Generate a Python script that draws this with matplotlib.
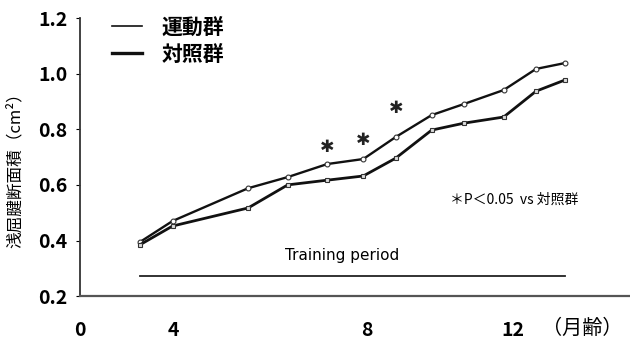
import matplotlib
matplotlib.use("Agg")
import matplotlib.pyplot as plt

plt.rcParams['font.family'] = ['Noto Sans CJK JP', 'DejaVu Sans']

# age in months at each measurement
ages = [3.0, 3.9, 6.0, 7.1, 8.2, 9.2, 10.1, 11.1, 12.0, 13.1, 14.0, 14.8]
# tendon cross-sectional area (cm2)
exercise = [0.395, 0.47, 0.588, 0.628, 0.675, 0.693, 0.772, 0.851, 0.891, 0.941, 1.017, 1.038]
control = [0.385, 0.452, 0.517, 0.600, 0.617, 0.632, 0.696, 0.797, 0.822, 0.844, 0.937, 0.977]
# measurements with P < 0.05 and the height of their star
sig_idx = [4, 5, 6]
star_y = [0.738, 0.760, 0.875]

xtick_pos = [1.33, 3.92, 9.31, 13.36]
xtick_labels = ['0', '4', '8', '12']
yticks = [0.2, 0.4, 0.6, 0.8, 1.0, 1.2]

fig = plt.figure(figsize=(6.3, 3.4), dpi=100)
ax = fig.add_axes([0.127, 0.129, 0.873, 0.818])

ax.plot(ages, exercise, color='#111111', lw=1.7, marker='o', ms=3.5,
        mfc='white', mec='#333333', mew=0.8)
ax.plot(ages, control, color='#111111', lw=2.0, marker='s', ms=3.5,
        mfc='#dddddd', mec='#333333', mew=0.8)

for i, y in zip(sig_idx, star_y):
    ax.text(ages[i], y, '✱', ha='center', va='center', fontsize=12.5,
            family='DejaVu Sans', color='#222222')

# training period bar
ax.plot([ages[0], ages[-1]], [0.272, 0.272], color='#222222', lw=1.3)
ax.text(8.6, 0.345, 'Training period', ha='center', va='center', fontsize=11,
        family='DejaVu Sans')

ax.text(11.6, 0.545, '＊P＜0.05  vs 対照群', ha='left', va='center', fontsize=10)

# legend
ax.plot([2.22, 3.06], [1.173, 1.173], color='#111111', lw=1.2)
ax.plot([2.22, 3.06], [1.076, 1.076], color='#111111', lw=2.4)
ax.text(3.6, 1.168, '運動群', ha='left', va='center', fontsize=15, fontweight='bold')
ax.text(3.6, 1.068, '対照群', ha='left', va='center', fontsize=15, fontweight='bold')

ax.set_xlim(1.33, 16.61)
ax.set_ylim(0.2, 1.2)
ax.set_xticks(xtick_pos)
ax.set_xticklabels(xtick_labels, fontsize=14, fontweight='bold')
ax.set_yticks(yticks)
ax.set_yticklabels([f'{v:.1f}' for v in yticks], fontsize=14, fontweight='bold')
ax.tick_params(axis='x', length=0, pad=18)
ax.tick_params(axis='y', length=3, pad=6, direction='out')

for s in ['top', 'right']:
    ax.spines[s].set_visible(False)
ax.spines['left'].set_color('#333333')
ax.spines['bottom'].set_color('#555555')
ax.spines['left'].set_linewidth(1.3)
ax.spines['bottom'].set_linewidth(1.6)

fig.text(0.924, 0.035, '（月齢）', ha='center', va='center', fontsize=14.5)
fig.text(0.024, 0.51, '浅屈腱断面積（cm²）', ha='center', va='center',
         rotation=90, fontsize=12)

fig.savefig('out.png', dpi=100)
